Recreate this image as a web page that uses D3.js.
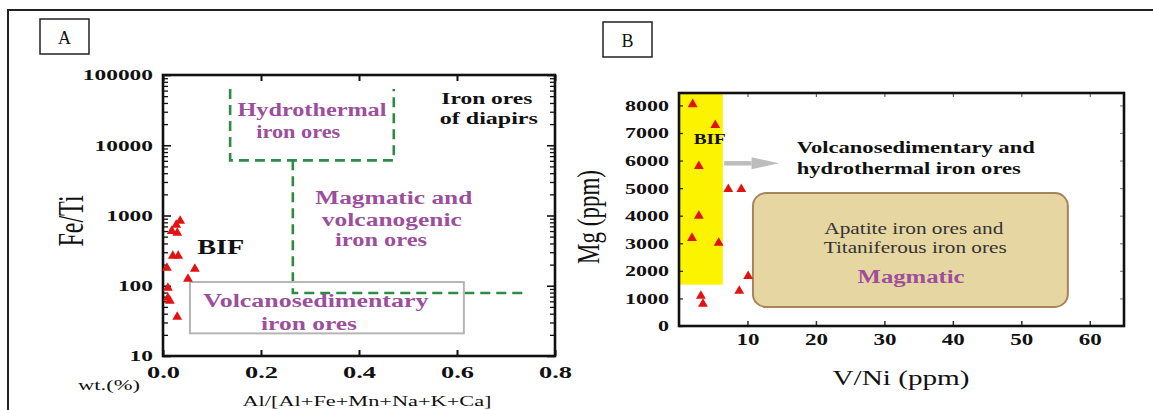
<html>
<head>
<title>Iron ore discrimination diagrams</title>
<script src="https://d3js.org/d3.v7.min.js"></script>
<style>
body { margin: 0; background: #fff; }
svg text { font-family: "Liberation Serif", "Times New Roman", serif; }
</style>
</head>
<body>
<div id="chart"></div>
<script>
// ---- panel A : Fe/Ti vs Al/(Al+Fe+Mn+Na+K+Ca) ----
var aAl   = [0.035, 0.027, 0.018, 0.029, 0.020, 0.031, 0.008, 0.065, 0.051, 0.010, 0.010, 0.014, 0.029];
var aFeTi = [836, 733, 601, 563, 265, 265, 179, 173, 125, 93, 67, 61, 36];
var aXTicks = [0.0, 0.2, 0.4, 0.6, 0.8];
var aYTicks = [10, 100, 1000, 10000, 100000];
// field boundaries (data units)
var hydroLine = [[0.137, 63000], [0.137, 6100], [0.471, 6100], [0.471, 63000]];
var magmaLine = [[0.265, 6100], [0.265, 79], [0.741, 79]];
var volcBox = {x0: 0.055, x1: 0.614, y0: 21, y1: 113};

// ---- panel B : Mg vs V/Ni ----
var bVNi = [2.0, 5.3, 2.9, 7.2, 9.1, 2.9, 1.9, 5.8, 10.1, 8.8, 3.2, 3.5];
var bMg  = [8040, 7280, 5800, 4960, 4960, 3990, 3190, 3010, 1810, 1270, 1090, 800];
var bXTicks = [10, 20, 30, 40, 50, 60];
var bYTicks = [0, 1000, 2000, 3000, 4000, 5000, 6000, 7000, 8000];
var bifBand = {x0: 0, x1: 6.4, y0: 1500};
var magBox = {x0: 10.8, x1: 56.8, y0: 690, y1: 4820};
var arrowB = {x0: 6.6, x1: 14.6, y: 5900};

var W = 1153, H = 410;
var svg = d3.select("#chart").append("svg").attr("width", W).attr("height", H);
svg.append("rect").attr("width", W).attr("height", H).attr("fill", "#fff");
svg.append("path").attr("d", "M8,410V10H1153").attr("fill", "none")
	.attr("stroke", "#222").attr("stroke-width", 2);

var purple = "#9c4f9c", green = "#2e8b45", red = "#e31212";

function label(g, x, y, s, o) {
	var t = g.append("text").attr("x", x).attr("y", y).attr("dy", "0.35em")
		.attr("text-anchor", o.anchor || "middle")
		.attr("font-size", o.size)
		.attr("font-weight", o.bold ? "bold" : "normal")
		.attr("fill", o.color || "#111")
		.text(s);
	if (o.width) t.attr("textLength", o.width).attr("lengthAdjust", "spacingAndGlyphs");
	return t;
}

function styleAxis(g, size, digitW, col, sw) {
	g.select(".domain").remove();
	g.attr("font-family", null).attr("font-size", size).attr("font-weight", "bold").attr("color", col);
	g.selectAll("line").attr("stroke-width", sw);
	g.selectAll("text").attr("fill", "#111").each(function() {
		var s = d3.select(this).text();
		if (s.length) d3.select(this).attr("textLength", s.length * digitW).attr("lengthAdjust", "spacingAndGlyphs");
	});
}

function panelBox(x, y, s) {
	svg.append("rect").attr("x", x).attr("y", y).attr("width", 49).attr("height", 35)
		.attr("fill", "none").attr("stroke", "#222").attr("stroke-width", 1.5);
	label(svg, x + 24.5, y + 19, s, {size: 18});
}

// ================= Panel A =================
var xA = d3.scaleLinear().domain([0, 0.8]).range([163, 555]);
var yA = d3.scaleLog().domain([10, 100000]).range([356, 75]);
var gA = svg.append("g");
panelBox(40, 19, "A");

var minorA = yA.ticks().filter(function(d) { return aYTicks.indexOf(d) < 0; });

var ax = gA.append("g").attr("transform", "translate(0,356)")
	.call(d3.axisBottom(xA).tickValues(aXTicks).tickSizeInner(-6).tickSizeOuter(0)
		.tickPadding(11).tickFormat(d3.format(".1f")));
styleAxis(ax, 16, 11, "#111", 2);
var axt = gA.append("g").attr("transform", "translate(0,75)")
	.call(d3.axisTop(xA).tickValues(aXTicks).tickSizeInner(-6).tickSizeOuter(0).tickFormat(""));
styleAxis(axt, 16, 11, "#111", 2);

var ay = gA.append("g").attr("transform", "translate(163,0)")
	.call(d3.axisLeft(yA).tickValues(aYTicks).tickSizeInner(-8).tickSizeOuter(0)
		.tickPadding(10).tickFormat(d3.format("d")));
styleAxis(ay, 15.5, 11.7, "#111", 1.6);
var aym = gA.append("g").attr("transform", "translate(163,0)")
	.call(d3.axisLeft(yA).tickValues(minorA).tickSizeInner(-5).tickSizeOuter(0).tickFormat(""));
styleAxis(aym, 15, 11.7, "#111", 1.3);
var ayr = gA.append("g").attr("transform", "translate(555,0)")
	.call(d3.axisRight(yA).tickValues(aYTicks).tickSizeInner(-8).tickSizeOuter(0).tickFormat(""));
styleAxis(ayr, 15, 11.7, "#111", 1.6);
var ayrm = gA.append("g").attr("transform", "translate(555,0)")
	.call(d3.axisRight(yA).tickValues(minorA).tickSizeInner(-5).tickSizeOuter(0).tickFormat(""));
styleAxis(ayrm, 15, 11.7, "#111", 1.3);

gA.append("rect").attr("x", xA(0)).attr("y", yA(100000))
	.attr("width", xA(0.8) - xA(0)).attr("height", yA(10) - yA(100000))
	.attr("fill", "none").attr("stroke", "#111").attr("stroke-width", 2.6);

// fields
var lineA = d3.line().x(function(d) { return xA(d[0]); }).y(function(d) { return yA(d[1]); });
[hydroLine, magmaLine].forEach(function(l) {
	gA.append("path").attr("d", lineA(l)).attr("fill", "none")
		.attr("stroke", green).attr("stroke-width", 2.6).attr("stroke-dasharray", "10,6");
});
gA.append("rect").attr("x", xA(volcBox.x0)).attr("y", yA(volcBox.y1))
	.attr("width", xA(volcBox.x1) - xA(volcBox.x0)).attr("height", yA(volcBox.y0) - yA(volcBox.y1))
	.attr("fill", "none").attr("stroke", "#b5b5b5").attr("stroke-width", 2);

label(gA, xA(0.304), yA(31770), "Hydrothermal", {size: 18, bold: true, color: purple, width: 149});
label(gA, xA(0.276), yA(15450), "iron ores", {size: 18, bold: true, color: purple, width: 84});
label(gA, xA(0.661), yA(47100), "Iron ores", {size: 17, bold: true, width: 91});
label(gA, xA(0.665), yA(24400), "of diapirs", {size: 17, bold: true, width: 98});
label(gA, xA(0.471), yA(1775), "Magmatic and", {size: 18, bold: true, color: purple, width: 157});
label(gA, xA(0.467), yA(863), "volcanogenic", {size: 18, bold: true, color: purple, width: 140});
label(gA, xA(0.445), yA(448), "iron ores", {size: 18, bold: true, color: purple, width: 92});
label(gA, xA(0.118), yA(357), "BIF", {size: 20, bold: true, width: 47});
label(gA, xA(0.312), yA(61), "Volcanosedimentary", {size: 18, bold: true, color: purple, width: 225});
label(gA, xA(0.298), yA(28.6), "iron ores", {size: 18, bold: true, color: purple, width: 96});

var tri = d3.symbol().type(d3.symbolTriangle).size(42);
gA.selectAll(".ptA").data(aAl).enter().append("path").attr("class", "ptA")
	.attr("d", tri)
	.attr("transform", function(d, i) { return "translate(" + xA(d) + "," + yA(aFeTi[i]) + ")"; })
	.attr("fill", red);

gA.append("text").attr("transform", "translate(70,221) scale(1.5,1) rotate(-90)")
	.attr("text-anchor", "middle").attr("dy", "0.35em").attr("font-size", 24).attr("fill", "#111").text("Fe/Ti");
label(gA, 109, 385, "wt.(%)", {size: 15, width: 62});
label(gA, 367, 401, "Al/[Al+Fe+Mn+Na+K+Ca]", {size: 15, width: 249});

// ================= Panel B =================
var xB = d3.scaleLinear().domain([0, 65]).range([679, 1124]);
var yB = d3.scaleLinear().domain([0, 8450]).range([326, 93]);
var gB = svg.append("g");
panelBox(603, 22, "B");

gB.append("rect").attr("x", xB(bifBand.x0)).attr("y", yB(8450))
	.attr("width", xB(bifBand.x1) - xB(bifBand.x0)).attr("height", yB(bifBand.y0) - yB(8450))
	.attr("fill", "#fbf300");
gB.append("rect").attr("x", xB(magBox.x0)).attr("y", yB(magBox.y1))
	.attr("width", xB(magBox.x1) - xB(magBox.x0)).attr("height", yB(magBox.y0) - yB(magBox.y1))
	.attr("rx", 13).attr("fill", "#e6d6a2").attr("stroke", "#a9835c").attr("stroke-width", 2);

// arrow
var ahx = arrowB.x1 - 4;
gB.append("line").attr("x1", xB(arrowB.x0)).attr("x2", xB(ahx))
	.attr("y1", yB(arrowB.y)).attr("y2", yB(arrowB.y))
	.attr("stroke", "#bdbdbd").attr("stroke-width", 4.5);
gB.append("path").attr("d", "M" + xB(ahx) + "," + (yB(arrowB.y) - 6) + "L" + xB(arrowB.x1) + "," + yB(arrowB.y)
	+ "L" + xB(ahx) + "," + (yB(arrowB.y) + 6) + "Z").attr("fill", "#bdbdbd");

var bx = gB.append("g").attr("transform", "translate(0,326)")
	.call(d3.axisBottom(xB).tickValues(bXTicks).tickSizeInner(-5).tickSizeOuter(0).tickPadding(8)
		.tickFormat(d3.format("d")));
styleAxis(bx, 16, 11.5, "#333", 1.5);
var bxt = gB.append("g").attr("transform", "translate(0,93)")
	.call(d3.axisTop(xB).tickValues(bXTicks).tickSizeInner(-4).tickSizeOuter(0).tickFormat(""));
styleAxis(bxt, 16, 11.5, "#666", 1.2);
var by = gB.append("g").attr("transform", "translate(679,0)")
	.call(d3.axisLeft(yB).tickValues(bYTicks).tickSizeInner(-4).tickSizeOuter(0).tickPadding(10)
		.tickFormat(d3.format("d")));
styleAxis(by, 15.5, 11, "#333", 1.3);
var byr = gB.append("g").attr("transform", "translate(1124,0)")
	.call(d3.axisRight(yB).tickValues(bYTicks).tickSizeInner(-4).tickSizeOuter(0).tickFormat(""));
styleAxis(byr, 15, 11, "#888", 1.2);

gB.append("rect").attr("x", xB(0)).attr("y", yB(8450))
	.attr("width", xB(65) - xB(0)).attr("height", yB(0) - yB(8450))
	.attr("fill", "none").attr("stroke", "#111").attr("stroke-width", 2.6);

label(gB, xB(4.5), yB(6800), "BIF", {size: 15, bold: true, width: 32});
label(gB, xB(17.2), yB(6480), "Volcanosedimentary and", {size: 17, bold: true, anchor: "start", width: 238});
label(gB, xB(17.2), yB(5720), "hydrothermal iron ores", {size: 17, bold: true, anchor: "start", width: 224});
label(gB, xB(34.3), yB(3550), "Apatite iron ores and", {size: 16, color: "#333", width: 179});
label(gB, xB(34.5), yB(2860), "Titaniferous iron ores", {size: 16, color: "#333", width: 183});
label(gB, xB(33.9), yB(1770), "Magmatic", {size: 18, bold: true, color: purple, width: 107});

gB.selectAll(".ptB").data(bVNi).enter().append("path").attr("class", "ptB")
	.attr("d", tri)
	.attr("transform", function(d, i) { return "translate(" + xB(d) + "," + yB(bMg[i]) + ")"; })
	.attr("fill", red);

gB.append("text").attr("transform", "translate(588,217) scale(1.35,1) rotate(-90)")
	.attr("text-anchor", "middle").attr("dy", "0.35em").attr("font-size", 23).attr("fill", "#111").text("Mg (ppm)");
label(gB, 901, 377, "V/Ni (ppm)", {size: 22, width: 137});
</script>
</body>
</html>
